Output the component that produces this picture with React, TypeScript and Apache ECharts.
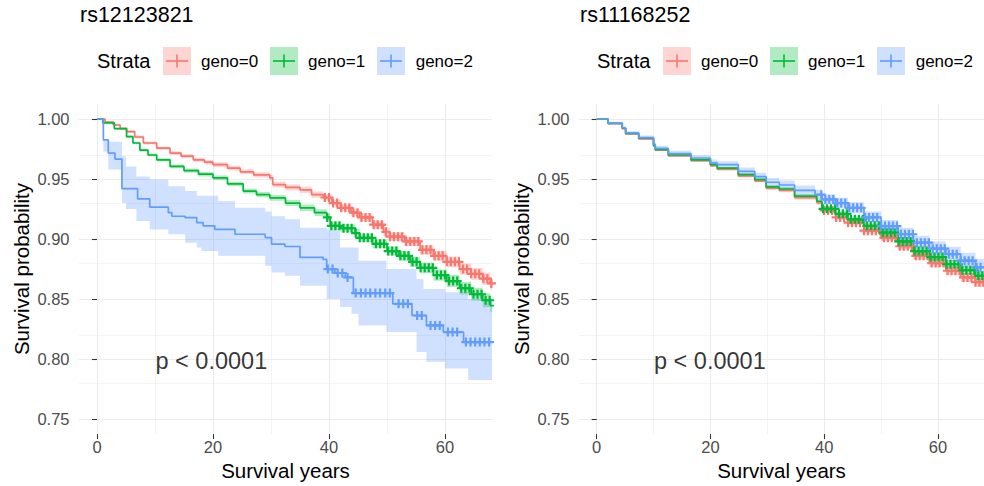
import React, { useEffect, useRef } from "react";
import * as echarts from "echarts";

const FONT = "'Liberation Sans', Arial, Helvetica, sans-serif";
const COLORS = ["#F8766D", "#00BA38", "#619CFF"];
const BAND_COLORS = ["rgba(248,118,109,0.3)", "rgba(0,186,56,0.3)", "rgba(97,156,255,0.3)"];
const STRATA = ["geno=0", "geno=1", "geno=2"];
const PANEL_TITLES = ["rs12123821", "rs11168252"];
const LEGEND_TITLE = "Strata";
const X_TITLE = "Survival years";
const Y_TITLE = "Survival probability";
const X_TICKS = [0, 20, 40, 60];
const X_MINOR = [10, 30, 50];
const Y_TICKS = [0.75, 0.8, 0.85, 0.9, 0.95, 1.0];
const Y_MINOR = [0.775, 0.825, 0.875, 0.925, 0.975];
const PVAL_TEXT = "p < 0.0001";
const PVAL_POS = [10, 0.8];

// ---------- Panel 1: rs12123821 ----------
const L0_time = [0, 1.4, 2.8, 4.0, 5.1, 6.5, 8.0, 10.3, 12.6, 14.5, 16.6, 18.5, 20.0, 22.5, 24.7, 27.0, 29.8, 30.3, 32.5, 35.0, 37.0, 39.0, 40.5, 42.0, 43.8, 45.3, 47.5, 49.4, 50.5, 53.0, 55.7, 58.0, 60.3, 62.5, 64.5, 66.5, 67.8, 70];
const L0_surv = [1.0, 0.9975, 0.995, 0.992, 0.9895, 0.985, 0.98, 0.9757, 0.9716, 0.969, 0.966, 0.964, 0.962, 0.959, 0.956, 0.9535, 0.951, 0.9454, 0.943, 0.941, 0.937, 0.9346, 0.93, 0.926, 0.922, 0.918, 0.912, 0.906, 0.902, 0.898, 0.891, 0.886, 0.881, 0.875, 0.871, 0.867, 0.863, 0.863];
const L0_lower = [1.0, 0.9968, 0.9941, 0.991, 0.9884, 0.9838, 0.9787, 0.9743, 0.9701, 0.9674, 0.9643, 0.9622, 0.9601, 0.957, 0.9539, 0.9513, 0.9487, 0.943, 0.9405, 0.9384, 0.9343, 0.9318, 0.9271, 0.923, 0.9189, 0.9148, 0.9086, 0.9024, 0.8983, 0.8942, 0.887, 0.8818, 0.8766, 0.8703, 0.8661, 0.8619, 0.8577, 0.8577];
const L0_upper = [1.0, 0.9982, 0.9959, 0.993, 0.9906, 0.9862, 0.9813, 0.9771, 0.9731, 0.9706, 0.9677, 0.9658, 0.9639, 0.961, 0.9581, 0.9557, 0.9533, 0.9478, 0.9455, 0.9436, 0.9397, 0.9374, 0.9329, 0.929, 0.9251, 0.9212, 0.9154, 0.9096, 0.9057, 0.9018, 0.895, 0.8902, 0.8854, 0.8797, 0.8759, 0.8721, 0.8683, 0.8683];
const L0_censor = [39.3, 40.0, 40.7, 41.4, 42.1, 42.8, 43.5, 44.2, 44.9, 45.6, 46.3, 47.0, 47.7, 48.4, 49.1, 49.8, 50.5, 51.2, 51.9, 52.6, 53.3, 54.0, 54.7, 55.4, 56.1, 56.8, 57.5, 58.2, 58.9, 59.6, 60.3, 61.0, 61.7, 62.4, 63.1, 63.8, 64.5, 65.2, 65.9, 66.6, 67.3, 68.0];

const L1_time = [0, 1.0, 3.0, 5.1, 6.2, 7.4, 8.8, 10.3, 12.6, 15.0, 17.5, 20.0, 22.5, 25.2, 27.5, 29.8, 32.5, 35.0, 37.5, 39.6, 40.2, 42.0, 44.5, 45.3, 47.5, 50.0, 52.0, 54.0, 55.7, 58.0, 60.3, 62.5, 64.5, 66.5, 67.8, 70];
const L1_surv = [1.0, 0.9967, 0.992, 0.9853, 0.98, 0.974, 0.97, 0.966, 0.9605, 0.957, 0.954, 0.951, 0.946, 0.94, 0.937, 0.9343, 0.93, 0.926, 0.922, 0.918, 0.911, 0.909, 0.905, 0.901, 0.896, 0.89, 0.886, 0.881, 0.876, 0.87, 0.865, 0.859, 0.854, 0.849, 0.8446, 0.8446];
const L1_lower = [1.0, 0.9962, 0.9912, 0.9843, 0.9789, 0.9728, 0.9687, 0.9646, 0.9589, 0.9553, 0.9522, 0.9491, 0.944, 0.9379, 0.9348, 0.932, 0.9275, 0.9233, 0.9191, 0.915, 0.9078, 0.9057, 0.9016, 0.8975, 0.8923, 0.8862, 0.882, 0.8768, 0.8716, 0.8653, 0.86, 0.8537, 0.8485, 0.8432, 0.839, 0.839];
const L1_upper = [1.0, 0.9972, 0.9928, 0.9863, 0.9811, 0.9752, 0.9713, 0.9674, 0.9621, 0.9587, 0.9558, 0.9529, 0.948, 0.9421, 0.9392, 0.9366, 0.9325, 0.9287, 0.9249, 0.921, 0.9142, 0.9123, 0.9084, 0.9045, 0.8997, 0.8938, 0.89, 0.8852, 0.8804, 0.8747, 0.87, 0.8643, 0.8595, 0.8548, 0.8502, 0.8502];
const L1_censor = [39.7, 40.4, 41.1, 41.8, 42.5, 43.2, 43.9, 44.6, 45.3, 46.0, 46.7, 47.4, 48.1, 48.8, 49.5, 50.2, 50.9, 51.6, 52.3, 53.0, 53.7, 54.4, 55.1, 55.8, 56.5, 57.2, 57.9, 58.6, 59.3, 60.0, 60.7, 61.4, 62.1, 62.8, 63.5, 64.2, 64.9, 65.6, 66.3, 67.0, 67.7];

const L2_time = [0, 1.1, 1.95, 3.1, 4.3, 7.0, 9.1, 12.3, 12.9, 15.2, 17.2, 18.3, 20.3, 23.8, 29.0, 30.1, 32.4, 35.0, 39.0, 39.6, 41.0, 42.8, 44.2, 51.0, 54.3, 56.8, 59.7, 63.2, 70];
const L2_surv = [1.0, 0.9826, 0.9716, 0.9666, 0.942, 0.9335, 0.9266, 0.922, 0.919, 0.9178, 0.9136, 0.911, 0.908, 0.904, 0.9012, 0.8957, 0.8938, 0.8847, 0.883, 0.875, 0.8717, 0.868, 0.855, 0.846, 0.8363, 0.828, 0.8225, 0.8142, 0.8142];
const L2_bandTime = [0, 1.1, 1.95, 4.3, 5.0, 6.8, 9.1, 12.3, 15.2, 17.2, 18.0, 20.9, 23.8, 29.0, 30.1, 32.4, 35.0, 39.6, 41.9, 43.9, 45.1, 49.9, 55.1, 56.3, 56.8, 60.0, 64.0, 70];
const L2_upper = [1.0, 0.983, 0.981, 0.969, 0.9605, 0.952, 0.9495, 0.944, 0.94, 0.936, 0.936, 0.9315, 0.926, 0.923, 0.919, 0.9164, 0.9095, 0.908, 0.893, 0.893, 0.882, 0.875, 0.8667, 0.8584, 0.8584, 0.8557, 0.85, 0.85];
const L2_lower = [1.0, 0.973, 0.958, 0.93, 0.925, 0.915, 0.908, 0.904, 0.897, 0.893, 0.89, 0.886, 0.886, 0.8777, 0.8722, 0.8694, 0.861, 0.85, 0.8433, 0.8377, 0.828, 0.8225, 0.806, 0.806, 0.7977, 0.7922, 0.7825, 0.7825];
const L2_censor = [39.8, 40.6, 41.5, 42.3, 43.2, 44.6, 45.5, 46.3, 47.1, 48.0, 48.8, 49.7, 50.5, 52.0, 52.8, 53.6, 55.2, 56.0, 57.5, 58.3, 59.1, 60.5, 61.3, 62.1, 63.6, 64.4, 65.2, 66.0, 66.8, 67.6];

// ---------- Panel 2: rs11168252 ----------
const R_time = [0, 2.0, 4.5, 5.1, 7.4, 10.0, 10.3, 12.6, 16.6, 20.0, 21.2, 24.9, 27.8, 29.8, 32.1, 34.8, 38.7, 39.6, 42.0, 44.2, 47.0, 50.0, 53.0, 55.7, 58.5, 61.4, 64.0, 66.6, 70];
const R0_surv = [1.0, 0.9962, 0.992, 0.9876, 0.9835, 0.9775, 0.974, 0.9694, 0.9654, 0.9612, 0.9582, 0.9527, 0.9485, 0.9425, 0.9406, 0.9345, 0.9303, 0.9238, 0.918, 0.9136, 0.907, 0.901, 0.894, 0.886, 0.88, 0.8736, 0.868, 0.864, 0.862];
const R0_lower = [1.0, 0.9958, 0.9915, 0.987, 0.9828, 0.9767, 0.9731, 0.9684, 0.9643, 0.96, 0.9569, 0.9513, 0.947, 0.9409, 0.9389, 0.9327, 0.9284, 0.9218, 0.9158, 0.9113, 0.9045, 0.8983, 0.8911, 0.8829, 0.8767, 0.8701, 0.8643, 0.8601, 0.858];
const R0_upper = [1.0, 0.9966, 0.9925, 0.9882, 0.9842, 0.9783, 0.9749, 0.9704, 0.9665, 0.9624, 0.9595, 0.9541, 0.95, 0.9441, 0.9423, 0.9363, 0.9322, 0.9258, 0.9202, 0.9159, 0.9095, 0.9037, 0.8969, 0.8891, 0.8833, 0.8771, 0.8717, 0.8679, 0.866];
const R0_censor = [40.0, 40.7, 41.4, 42.1, 42.8, 43.5, 44.2, 44.9, 45.6, 46.3, 47.0, 47.7, 48.4, 49.1, 49.8, 50.5, 51.2, 51.9, 52.6, 53.3, 54.0, 54.7, 55.4, 56.1, 56.8, 57.5, 58.2, 58.9, 59.6, 60.3, 61.0, 61.7, 62.4, 63.1, 63.8, 64.5, 65.2, 65.9, 66.6, 67.3, 68.0];

const R1_surv = [1.0, 0.9964, 0.9923, 0.988, 0.984, 0.978, 0.9745, 0.97, 0.966, 0.962, 0.959, 0.9536, 0.9495, 0.9434, 0.9417, 0.9357, 0.9315, 0.9252, 0.921, 0.9164, 0.911, 0.9053, 0.898, 0.89, 0.885, 0.879, 0.874, 0.8694, 0.868];
const R1_lower = [1.0, 0.996, 0.9918, 0.9874, 0.9833, 0.9772, 0.9736, 0.969, 0.9649, 0.9608, 0.9577, 0.9522, 0.948, 0.9418, 0.94, 0.9339, 0.9296, 0.9232, 0.9188, 0.9141, 0.9085, 0.9026, 0.8951, 0.8869, 0.8817, 0.8755, 0.8703, 0.8655, 0.864];
const R1_upper = [1.0, 0.9968, 0.9928, 0.9886, 0.9847, 0.9788, 0.9754, 0.971, 0.9671, 0.9632, 0.9603, 0.955, 0.951, 0.945, 0.9434, 0.9375, 0.9334, 0.9272, 0.9232, 0.9187, 0.9135, 0.908, 0.9009, 0.8931, 0.8883, 0.8825, 0.8777, 0.8733, 0.872];
const R1_censor = [39.8, 40.5, 41.2, 41.9, 42.6, 43.3, 44.0, 44.7, 45.4, 46.1, 46.8, 47.5, 48.2, 48.9, 49.6, 50.3, 51.0, 51.7, 52.4, 53.1, 53.8, 54.5, 55.2, 55.9, 56.6, 57.3, 58.0, 58.7, 59.4, 60.1, 60.8, 61.5, 62.2, 62.9, 63.6, 64.3, 65.0, 65.7, 66.4, 67.1, 67.8];

const R2_time = [0, 2.0, 4.5, 5.1, 7.4, 10.0, 10.3, 12.6, 16.6, 20.0, 21.2, 24.9, 27.8, 29.8, 32.1, 34.8, 38.4, 39.6, 42.0, 44.2, 47.0, 50.0, 53.0, 55.7, 58.5, 61.4, 64.0, 66.6, 70];
const R2_surv = [1.0, 0.9966, 0.9926, 0.9884, 0.9845, 0.979, 0.9755, 0.9712, 0.9675, 0.9635, 0.962, 0.9564, 0.952, 0.9473, 0.945, 0.9406, 0.937, 0.933, 0.93, 0.926, 0.918, 0.9108, 0.904, 0.897, 0.892, 0.8874, 0.882, 0.8764, 0.875];
const R2_lower = [1.0, 0.9957, 0.9913, 0.9869, 0.9827, 0.977, 0.9733, 0.9688, 0.9649, 0.9607, 0.9591, 0.9533, 0.9487, 0.9438, 0.9413, 0.9367, 0.9329, 0.9287, 0.9255, 0.9213, 0.9131, 0.9057, 0.8986, 0.8913, 0.8861, 0.8812, 0.8755, 0.8695, 0.868];
const R2_upper = [1.0, 0.9975, 0.9939, 0.9899, 0.9863, 0.981, 0.9777, 0.9736, 0.9701, 0.9663, 0.9649, 0.9595, 0.9553, 0.9508, 0.9487, 0.9445, 0.9411, 0.9373, 0.9345, 0.9307, 0.9229, 0.9159, 0.9094, 0.9027, 0.8979, 0.8936, 0.8885, 0.8833, 0.882];
const R2_censor = [39.5, 40.2, 40.9, 41.6, 42.3, 43.0, 43.7, 44.4, 45.1, 45.8, 46.5, 47.2, 47.9, 48.6, 49.3, 50.0, 50.7, 51.4, 52.1, 52.8, 53.5, 54.2, 54.9, 55.6, 56.3, 57.0, 57.7, 58.4, 59.1, 59.8, 60.5, 61.2, 61.9, 62.6, 63.3, 64.0, 64.7, 65.4, 66.1, 66.8, 67.5];

type Curve = { time: number[]; surv: number[]; bandTime: number[]; lower: number[]; upper: number[]; censor: number[] };

const PANELS: Curve[][] = [
  [
    { time: L0_time, surv: L0_surv, bandTime: L0_time, lower: L0_lower, upper: L0_upper, censor: L0_censor },
    { time: L1_time, surv: L1_surv, bandTime: L1_time, lower: L1_lower, upper: L1_upper, censor: L1_censor },
    { time: L2_time, surv: L2_surv, bandTime: L2_bandTime, lower: L2_lower, upper: L2_upper, censor: L2_censor },
  ],
  [
    { time: R_time, surv: R0_surv, bandTime: R_time, lower: R0_lower, upper: R0_upper, censor: R0_censor },
    { time: R_time, surv: R1_surv, bandTime: R_time, lower: R1_lower, upper: R1_upper, censor: R1_censor },
    { time: R2_time, surv: R2_surv, bandTime: R2_time, lower: R2_lower, upper: R2_upper, censor: R2_censor },
  ],
];

function stepAt(ts: number[], ss: number[], t: number) {
  let v = ss[0];
  for (let i = 0; i < ts.length; i++) {
    if (ts[i] <= t) v = ss[i];
    else break;
  }
  return v;
}

const PLUS = "path://M3.4,0H5.6V3.4H9V5.6H5.6V9H3.4V5.6H0V3.4H3.4Z";

function buildOption() {
  const panelLeft = [79, 579];
  const grid = panelLeft.map((l) => ({ left: l, top: 104, width: 413, height: 332 }));
  const xAxis = panelLeft.map((_, p) => ({
    type: "value",
    gridIndex: p,
    min: -3.1,
    max: 68.1,
    axisLine: { show: false },
    splitLine: { show: false },
    axisTick: { show: true, customValues: X_TICKS, length: 5, lineStyle: { color: "#333333", width: 1.07 } },
    axisLabel: { customValues: X_TICKS, color: "#4D4D4D", fontSize: 16.5, margin: 4, fontFamily: FONT },
    name: X_TITLE,
    nameLocation: "middle",
    nameGap: 21,
    nameTextStyle: { fontSize: 20.5, color: "#000000", fontFamily: FONT },
  }));
  const yAxis = panelLeft.map((_, p) => ({
    type: "value",
    gridIndex: p,
    min: 0.7375,
    max: 1.0125,
    axisLine: { show: false },
    splitLine: { show: false },
    axisTick: { show: true, customValues: Y_TICKS, length: 5, lineStyle: { color: "#333333", width: 1.07 } },
    axisLabel: {
      customValues: Y_TICKS,
      color: "#4D4D4D",
      fontSize: 16.5,
      margin: 9.5,
      fontFamily: FONT,
      formatter: (v: number) => v.toFixed(2),
    },
    name: Y_TITLE,
    nameLocation: "middle",
    nameGap: 47,
    nameTextStyle: { fontSize: 20.5, color: "#000000", fontFamily: FONT },
  }));

  const series: any[] = [];
  PANELS.forEach((curves, p) => {
    const gridData: any[] = [];
    X_MINOR.forEach((v) => gridData.push({ xAxis: v, lineStyle: { color: "#EBEBEB", width: 0.55, type: "solid" } }));
    Y_MINOR.forEach((v) => gridData.push({ yAxis: v, lineStyle: { color: "#EBEBEB", width: 0.55, type: "solid" } }));
    X_TICKS.forEach((v) => gridData.push({ xAxis: v, lineStyle: { color: "#EBEBEB", width: 1.1, type: "solid" } }));
    Y_TICKS.forEach((v) => gridData.push({ yAxis: v, lineStyle: { color: "#EBEBEB", width: 1.1, type: "solid" } }));
    series.push({
      type: "line",
      xAxisIndex: p,
      yAxisIndex: p,
      data: [[0, 0.9]],
      showSymbol: false,
      symbol: "none",
      lineStyle: { opacity: 0 },
      silent: true,
      z: 0,
      markLine: {
        silent: true,
        symbol: ["none", "none"],
        label: { show: false },
        animation: false,
        z: 0,
        data: gridData,
      },
    });

    curves.forEach((c, k) => {
      const bandRows = c.bandTime.map((t, i) => [t, c.lower[i], c.upper[i]]);
      series.push({
        type: "custom",
        xAxisIndex: p,
        yAxisIndex: p,
        data: bandRows,
        encode: { x: 0, y: [1, 2] },
        silent: true,
        z: 1,
        renderItem: (params: any, api: any) => {
          if (params.dataIndex !== 0) return null;
          const cs = params.coordSys;
          const clampX = (pt: number[]) => [Math.max(cs.x, Math.min(cs.x + cs.width, pt[0])), pt[1]];
          const pts: number[][] = [];
          const n = c.bandTime.length;
          for (let i = 0; i < n; i++) {
            pts.push(clampX(api.coord([c.bandTime[i], c.upper[i]])));
            if (i < n - 1) pts.push(clampX(api.coord([c.bandTime[i + 1], c.upper[i]])));
          }
          for (let i = n - 1; i >= 0; i--) {
            if (i < n - 1) pts.push(clampX(api.coord([c.bandTime[i + 1], c.lower[i]])));
            pts.push(clampX(api.coord([c.bandTime[i], c.lower[i]])));
          }
          return { type: "polygon", shape: { points: pts }, style: { fill: BAND_COLORS[k], stroke: "none" } };
        },
      });
    });

    curves.forEach((c, k) => {
      series.push({
        type: "line",
        name: STRATA[k],
        xAxisIndex: p,
        yAxisIndex: p,
        step: "end",
        data: c.time.map((t, i) => [t, c.surv[i]]),
        showSymbol: false,
        symbol: "none",
        lineStyle: { color: COLORS[k], width: 1.7 },
        silent: true,
        z: 2,
      });
    });

    curves.forEach((c, k) => {
      series.push({
        type: "scatter",
        xAxisIndex: p,
        yAxisIndex: p,
        data: c.censor.map((t) => [t, stepAt(c.time, c.surv, t)]),
        symbol: PLUS,
        symbolSize: 9,
        itemStyle: { color: COLORS[k], opacity: 1 },
        silent: true,
        z: 3,
      });
    });

    series.push({
      type: "scatter",
      xAxisIndex: p,
      yAxisIndex: p,
      data: [PVAL_POS],
      symbolSize: 1,
      itemStyle: { color: "transparent" },
      silent: true,
      z: 4,
      label: {
        show: true,
        formatter: PVAL_TEXT,
        position: [0, 0],
        offset: [1, 2],
        align: "left",
        verticalAlign: "middle",
        fontSize: 23.5,
        color: "#000000",
        fontFamily: FONT,
      },
    });
  });

  const graphic: any[] = [];
  [0, 500].forEach((dx, p) => {
    graphic.push({
      type: "text",
      left: 80 + dx,
      top: 4,
      style: { text: PANEL_TITLES[p], fontSize: 21.5, fill: "#000000", fontFamily: FONT },
    });
    graphic.push({
      type: "text",
      x: 97 + dx,
      y: 61,
      style: { text: LEGEND_TITLE, fontSize: 20, fill: "#000000", fontFamily: FONT, verticalAlign: "middle" },
    });
    const keyX = [163, 270, 377];
    const labX = [201, 308, 415.7];
    STRATA.forEach((s, k) => {
      const x0 = keyX[k] + dx;
      graphic.push({ type: "rect", shape: { x: x0, y: 47, width: 28, height: 28 }, style: { fill: BAND_COLORS[k] } });
      graphic.push({ type: "line", shape: { x1: x0 + 3, y1: 61, x2: x0 + 25, y2: 61 }, style: { stroke: COLORS[k], lineWidth: 1.6 } });
      graphic.push({ type: "line", shape: { x1: x0 + 14, y1: 54.5, x2: x0 + 14, y2: 67.5 }, style: { stroke: COLORS[k], lineWidth: 1.6 } });
      graphic.push({
        type: "text",
        x: labX[k] + dx,
        y: 61,
        style: { text: s, fontSize: 17, fill: "#000000", fontFamily: FONT, verticalAlign: "middle" },
      });
    });
  });

  return {
    animation: false,
    backgroundColor: "#FFFFFF",
    textStyle: { fontFamily: FONT },
    grid,
    xAxis,
    yAxis,
    series,
    graphic,
  };
}

export default function App() {
  const ref = useRef<HTMLDivElement>(null);
  useEffect(() => {
    if (!ref.current) return;
    const chart = echarts.init(ref.current, null, { renderer: "svg" });
    chart.setOption(buildOption() as any);
    return () => chart.dispose();
  }, []);
  return <div ref={ref} style={{ position: "absolute", left: 0, top: 0, width: 984, height: 486 }} />;
}
